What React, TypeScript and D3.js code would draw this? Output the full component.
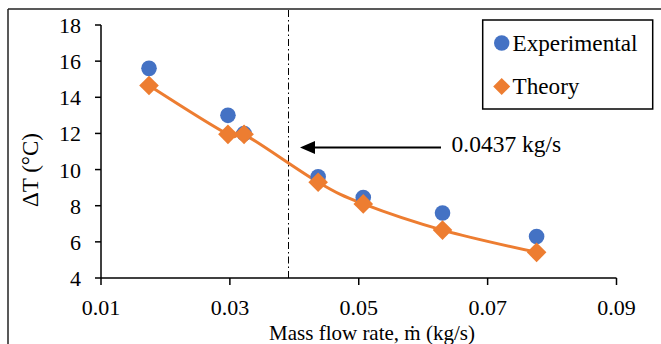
import React from "react";
import * as d3 from "d3";

const massFlow = [0.01745, 0.0297, 0.0322, 0.0437, 0.0507, 0.063, 0.0776];
const experimental = [15.6, 13.0, 12.0, 9.6, 8.45, 7.6, 6.3];
const theory = [14.65, 11.95, 11.95, 9.3, 8.1, 6.65, 5.42];
const xTicks = [0.01, 0.03, 0.05, 0.07, 0.09];
const yTicks = [4, 6, 8, 10, 12, 14, 16, 18];
const markerLineX = 0.0391;
const annotationLabel = "0.0437 kg/s";
const seriesNames = ["Experimental", "Theory"];

const W = 661;
const H = 344;
const FONT = "'Times New Roman', Tinos, 'Liberation Serif', 'DejaVu Serif', serif";
const BLUE = "#4472C4";
const ORANGE = "#ED7D31";

export default function App() {
  const x = d3.scaleLinear().domain([0.01, 0.09]).range([101, 616.5]);
  const y = d3.scaleLinear().domain([4, 18]).range([278, 25]);

  const pts: [number, number][] = massFlow.map((m, i) => [x(m), y(theory[i])]);
  const line = d3.line().curve(d3.curveCardinal.tension(0))(pts) || "";

  const diamond = (cx: number, cy: number, r: number) =>
    `M${cx},${cy - r}L${cx + r},${cy}L${cx},${cy + r}L${cx - r},${cy}Z`;

  const arrowY = 147.5;
  const arrowTip = 300;
  const arrowEnd = 441;
  const ts = { fontFamily: FONT };

  return (
    <svg
      width={W}
      height={H}
      style={{ position: "absolute", left: 0, top: 0, background: "#fff", fontFamily: FONT }}
    >
      <rect x={0} y={0} width={W} height={H} fill="#fff" />
      {/* outer border */}
      <line x1={8} y1={9} x2={W} y2={9} stroke="#222" strokeWidth={1.5} />
      <line x1={8} y1={9} x2={8} y2={H} stroke="#222" strokeWidth={1.5} />

      {/* dash-dot vertical line */}
      <line
        x1={x(markerLineX)}
        x2={x(markerLineX)}
        y1={10}
        y2={278}
        stroke="#000"
        strokeWidth={1}
        strokeDasharray="7,3,1.5,3"
      />

      {/* axes */}
      <line x1={101} y1={y(18)} x2={101} y2={278} stroke="#000" strokeWidth={1.5} />
      <line x1={101} y1={278} x2={616.5} y2={278} stroke="#000" strokeWidth={1.5} />
      {yTicks.map((t) => (
        <g key={"y" + t}>
          <line x1={95} x2={101} y1={y(t)} y2={y(t)} stroke="#000" strokeWidth={1.5} />
          <text x={81} y={y(t) + 8} textAnchor="end" fontSize={22} fill="#000" style={ts}>
            {t}
          </text>
        </g>
      ))}
      {xTicks.map((t) => (
        <g key={"x" + t}>
          <line x1={x(t)} x2={x(t)} y1={278} y2={285} stroke="#000" strokeWidth={1.5} />
          <text x={x(t)} y={315} textAnchor="middle" fontSize={22} fill="#000" style={ts}>
            {t.toFixed(2)}
          </text>
        </g>
      ))}

      {/* axis titles */}
      <text x={372} y={340} textAnchor="middle" fontSize={21} fill="#000" style={ts}>
        Mass flow rate, ṁ (kg/s)
      </text>
      <text
        transform={`translate(38,170) rotate(-90)`}
        textAnchor="middle"
        fontSize={23}
        fill="#000"
        style={ts}
      >
        ΔT (°C)
      </text>

      {/* theory smooth line */}
      <path d={line} fill="none" stroke={ORANGE} strokeWidth={3} />

      {/* experimental points */}
      {massFlow.map((m, i) => (
        <circle key={"e" + i} cx={x(m)} cy={y(experimental[i])} r={7.8} fill={BLUE} />
      ))}
      {/* theory points */}
      {massFlow.map((m, i) => (
        <path key={"t" + i} d={diamond(x(m), y(theory[i]), 9.8)} fill={ORANGE} />
      ))}

      {/* arrow annotation */}
      <line x1={arrowTip + 12} x2={arrowEnd} y1={arrowY} y2={arrowY} stroke="#000" strokeWidth={2} />
      <path
        d={`M${arrowTip},${arrowY}L${arrowTip + 15},${arrowY - 6.5}L${arrowTip + 15},${arrowY + 6.5}Z`}
        fill="#000"
      />
      <text x={451.5} y={152} fontSize={23.5} fill="#000" style={ts}>
        {annotationLabel}
      </text>

      {/* legend */}
      <rect x={482.7} y={20} width={170} height={89} fill="#fff" stroke="#000" strokeWidth={1.5} />
      <circle cx={501.7} cy={43} r={7.7} fill={BLUE} />
      <text x={512.5} y={51} fontSize={23.2} fill="#000" style={ts}>
        {seriesNames[0]}
      </text>
      <path d={diamond(501.7, 86.5, 8.5)} fill={ORANGE} />
      <text x={512.5} y={94} fontSize={23.2} fill="#000" style={ts}>
        {seriesNames[1]}
      </text>
    </svg>
  );
}
